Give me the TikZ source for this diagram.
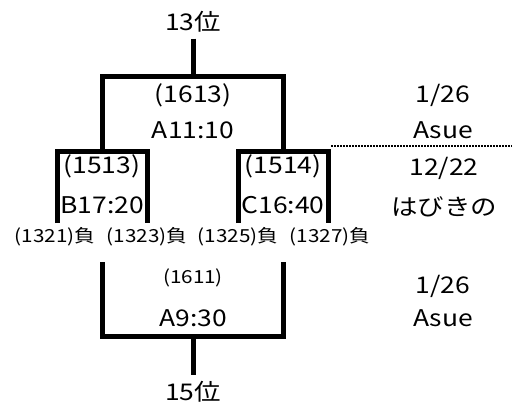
\documentclass[tikz,border=0pt]{standalone}
\usepackage{fontspec}
\setmainfont{Noto Sans CJK JP}[FakeStretch=1.15]
\usepackage{tikz}
\usetikzlibrary{calc}
\usetikzlibrary{positioning}
\tikzstyle{big} = [font=\fontsize{23}{23}\selectfont, inner sep=1pt]
\tikzstyle{small} = [font=\fontsize{18}{18}\selectfont, inner sep=1pt]
\tikzstyle{rank} = [big, inner ysep=6pt]
\tikzstyle{joint} = [coordinate]
\tikzstyle{bracket} = [draw, line width=5pt, line join=miter]
\tikzstyle{cut} = [draw, line width=2pt, dash pattern=on 1.5pt off 1.5pt]

\begin{document}
\begin{tikzpicture}[x=1pt, y=-1pt]
    \useasboundingbox (0,0) rectangle (512,408);

    \node [rank] (rank13) at (193,22) {13位};
    \node [rank] (rank15) at (193,392) {15位};

    \node [joint] (final) at (193,76) {};
    \node [joint] (semiB) at (102.5,151) {};
    \node [joint] (semiC) at (283.5,151) {};
    \node [joint] (leafB1) at (57.5,223) {};
    \node [joint] (leafB2) at (147.5,223) {};
    \node [joint] (leafC1) at (238.5,223) {};
    \node [joint] (leafC2) at (328,223) {};
    \node [joint] (third) at (193,336) {};
    \node [joint] (thirdB) at (102.5,262) {};
    \node [joint] (thirdC) at (283.5,262) {};
    \node [joint] (dotL) at (331,146) {};
    \node [joint] (dotR) at (512,146) {};

    \draw [bracket] (rank13) -- (final);
    \draw [bracket] (semiB) |- (final) -| (semiC);
    \draw [bracket] (leafB1) |- (semiB) -| (leafB2);
    \draw [bracket] (leafC1) |- (semiC) -| (leafC2);
    \draw [bracket] (thirdB) |- (third) -| (thirdC);
    \draw [bracket] (third) -- (rank15);
    \draw [cut] (dotL) -- (dotR);

    \node [big] (noF) at (193,95) {(1613)};
    \node [big] (gameF) at (193,130) {A11:10};
    \node [big] (dayF) at (443,95) {1/26};
    \node [big] (siteF) at (443,130) {Asue};
    \node [big] (noB) at (102,166) {(1513)};
    \node [big] (gameB) at (102,205) {B17:20};
    \node [big] (noC) at (283,166) {(1514)};
    \node [big] (gameC) at (283,205) {C16:40};
    \node [big] (dayS) at (444,168) {12/22};
    \node [big] (siteS) at (444,207) {はびきの};
    \node [small] (lose1) at (55,237) {(1321)負};
    \node [small] (lose2) at (147,237) {(1323)負};
    \node [small] (lose3) at (238,237) {(1325)負};
    \node [small] (lose4) at (330,237) {(1327)負};
    \node [small] (noT) at (193,278) {(1611)};
    \node [big] (gameT) at (193,318) {A9:30};
    \node [big] (dayT) at (443,286) {1/26};
    \node [big] (siteT) at (443,318) {Asue};
\end{tikzpicture}
\end{document}
